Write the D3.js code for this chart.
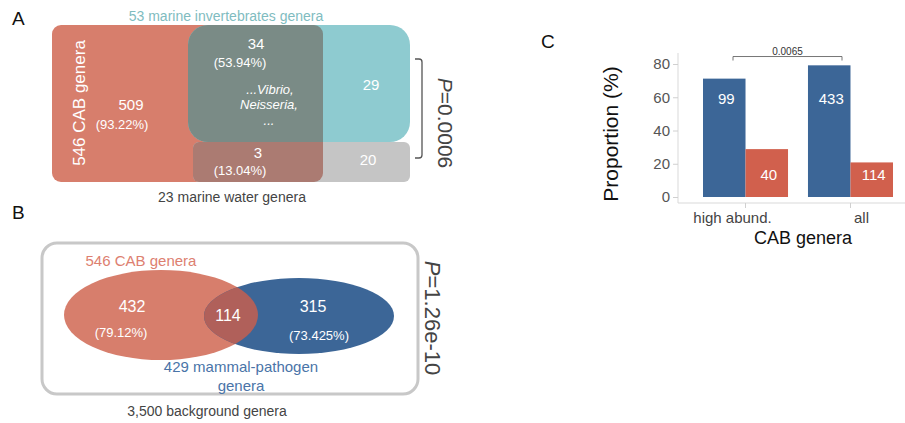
<!DOCTYPE html>
<html><head><meta charset="utf-8">
<script src="https://cdn.jsdelivr.net/npm/d3@7"></script>
<style>body{margin:0;background:#fff}svg{display:block;font-family:"Liberation Sans",Arial,sans-serif}</style>
</head><body><svg id="c" width="905" height="423"></svg>
<script>
// Panel A data
const setA_CAB = {name:"546 CAB genera", n:546, only:509, pct:"(93.22%)"};
const setA_inv = {name:"53 marine invertebrates genera", n:53, shared:34, pct:"(53.94%)", only:29};
const setA_water = {name:"23 marine water genera", n:23, shared:3, pct:"(13.04%)", only:20};
const exampleGenera = ["...Vibrio,", "Neisseria,", "..."];
const pA = "0.0006";
// Panel B data
const setB_CAB = {name:"546 CAB genera", only:432, pct:"(79.12%)"};
const setB_path = {name:["429 mammal-pathogen","genera"], only:315, pct:"(73.425%)"};
const overlapB = 114;
const backgroundLabel = "3,500 background  genera";
const pB = "1.26e-10";
// Panel C data
const categories = ["high abund.", "all"];
const groups = ["pathogen", "non-pathogen"];
const proportions = [[71.2, 28.8], [79.2, 20.8]];
const counts = [[99, 40], [433, 114]];
const yTicks = [0, 20, 40, 60, 80];
const pC = "0.0065";

const RED="#d77e6c", TEAL="#8ecbd0", OVL="#7a8b86", GREY="#c5c5c5", GRED="#ab7b72",
      BLUE="#3c6697", OVLB="#b0605a", BRED="#d1604d", TXT="#444";
const svg = d3.select("#c");

// panel letters
[["A",12,25],["B",12,219],["C",541,48]].forEach(([t,x,y])=>
  svg.append("text").attr("x",x).attr("y",y).attr("font-size",19).attr("fill","#111").text(t));

// ---------- Panel A ----------
const gA = svg.append("g");
const defs = svg.append("defs");
const redR = {x:52,y:25,w:271,h:157,r:9};
const tealR = {x:188,y:25,w:222,h:117,r:20};
const greyR = {x:193,y:142,w:217,h:40,r:6};
defs.append("clipPath").attr("id","redclip").append("rect")
  .attr("x",redR.x).attr("y",redR.y).attr("width",redR.w).attr("height",redR.h).attr("rx",redR.r);
const rr=(g,o,fill,clip)=>{const e=g.append("rect").attr("x",o.x).attr("y",o.y).attr("width",o.w).attr("height",o.h).attr("rx",o.r).attr("fill",fill); if(clip) e.attr("clip-path","url(#redclip)"); return e;};
rr(gA,redR,RED); rr(gA,tealR,TEAL); rr(gA,greyR,GREY);
rr(gA,tealR,OVL,true); rr(gA,greyR,GRED,true);

const t=(g,x,y,s,txt,o={})=>{const e=g.append("text").attr("x",x).attr("y",y).attr("font-size",s)
  .attr("text-anchor",o.anchor||"middle").attr("dominant-baseline","central").attr("fill",o.fill||"#fff").text(txt);
  if(o.italic) e.attr("font-style","italic"); if(o.rot!==undefined) e.attr("transform",`rotate(${o.rot},${x},${y})`); return e;};

t(gA,226,16,14,setA_inv.name,{fill:"#7fbcbf"});
t(gA,79,103,17,setA_CAB.name,{rot:-90});
t(gA,131,104,15,setA_CAB.only);
t(gA,122,124,13,setA_CAB.pct);
t(gA,256,43,15,setA_inv.shared);
t(gA,240,62,13,setA_inv.pct);
exampleGenera.forEach((g,i)=>t(gA,[270,269,269][i],[89,104,120][i],13,g,{italic:true}));
t(gA,371,84,15,setA_inv.only);
t(gA,258,152,15,setA_water.shared);
t(gA,240,170,13,setA_water.pct);
t(gA,368,159,15,setA_water.only);
t(gA,232,197,14,setA_water.name,{fill:TXT});
gA.append("path").attr("d","M415,59 H419 Q422,59 422,62 V155 Q422,158 419,158 H415")
  .attr("fill","none").attr("stroke","#555").attr("stroke-width",1.3);
const pa=gA.append("text").attr("transform","translate(438,123) rotate(90)").attr("text-anchor","middle")
  .attr("font-size",21).attr("fill",TXT);
pa.append("tspan").attr("font-style","italic").text("P");
pa.append("tspan").text("="+pA);

// ---------- Panel B ----------
const gB = svg.append("g");
gB.append("rect").attr("x",42).attr("y",243).attr("width",376).attr("height",151).attr("rx",15)
  .attr("fill","none").attr("stroke","#c8c8c8").attr("stroke-width",3);
const eR={cx:161,cy:315,rx:97,ry:45}, eB={cx:299,cy:316,rx:95,ry:38};
defs.append("clipPath").attr("id","eclip").append("ellipse").attr("cx",eR.cx).attr("cy",eR.cy).attr("rx",eR.rx).attr("ry",eR.ry);
const el=(o,fill,clip)=>{const e=gB.append("ellipse").attr("cx",o.cx).attr("cy",o.cy).attr("rx",o.rx).attr("ry",o.ry).attr("fill",fill); if(clip)e.attr("clip-path","url(#eclip)");};
el(eR,RED); el(eB,BLUE); el(eB,OVLB,true);
t(gB,141,260,15,setB_CAB.name,{fill:"#dd8070"});
t(gB,132,306,16,setB_CAB.only);
t(gB,121,332,13,setB_CAB.pct);
t(gB,228,315,16,overlapB);
t(gB,313,306,16,setB_path.only);
t(gB,319,335,13,setB_path.pct);
setB_path.name.forEach((s,i)=>t(gB,241,[366,385][i],15,s,{fill:"#4a74a8"}));
t(gB,207,411,14,backgroundLabel,{fill:TXT});
const pb=gB.append("text").attr("transform","translate(425,318) rotate(90)").attr("text-anchor","middle")
  .attr("font-size",22).attr("fill",TXT);
pb.append("tspan").attr("font-style","italic").text("P");
pb.append("tspan").text("="+pB);

// ---------- Panel C ----------
const gC = svg.append("g");
const y = d3.scaleLinear().domain([0,80]).range([197,64]);
const x = d3.scaleBand().domain(categories).range([703,893]).paddingInner(0.19).paddingOuter(0);
const xs = d3.scaleBand().domain(groups).range([0,x.bandwidth()]);
const colors = d3.scaleOrdinal().domain(groups).range([BLUE,BRED]);
// axes lines
gC.append("line").attr("x1",678).attr("x2",678).attr("y1",53).attr("y2",203).attr("stroke","#d9d9d9");
gC.append("line").attr("x1",678).attr("x2",905).attr("y1",203).attr("y2",203).attr("stroke","#d9d9d9");
const ya = gC.append("g").attr("transform","translate(678,0)").call(d3.axisLeft(y).tickValues(yTicks).tickSize(5).tickPadding(3));
ya.select(".domain").remove();
ya.selectAll("line").attr("stroke","#d0d0d0");
ya.selectAll("text").attr("font-size",15).attr("fill","#555").attr("font-family","Liberation Sans, Arial, sans-serif");
const xa = gC.append("g").attr("transform","translate(0,203)").call(d3.axisBottom(x).tickSize(5).tickFormat(""));
xa.select(".domain").remove();
xa.selectAll("line").attr("stroke","#d0d0d0");
const labelShift=[-13,11];
categories.forEach((c,i)=>t(gC,x(c)+x.bandwidth()/2+labelShift[i],217,15,c,{fill:"#444"}));
categories.forEach((c,i)=>{
  groups.forEach((g,j)=>{
    gC.append("rect").attr("x",x(c)+xs(g)).attr("width",xs.bandwidth()).attr("y",y(proportions[i][j]))
      .attr("height",y(0)-y(proportions[i][j])).attr("fill",colors(g));
    t(gC,x(c)+xs(g)+xs.bandwidth()/2+2,y(j===0?59:13.5),15,counts[i][j]);
  });
});
t(gC,803,238,18,"CAB genera",{fill:"#111"});
t(gC,610,134,21,"Proportion (%)",{fill:"#111",rot:-90});
const bx1=733, bx2=842, by=y(84.5);
gC.append("path").attr("d",`M${bx1},${by+4} V${by} H${bx2} V${by+4}`).attr("fill","none").attr("stroke","#666").attr("stroke-width",0.9);
t(gC,(bx1+bx2)/2,by-5,10,pC,{fill:"#333"});
</script></body></html>
